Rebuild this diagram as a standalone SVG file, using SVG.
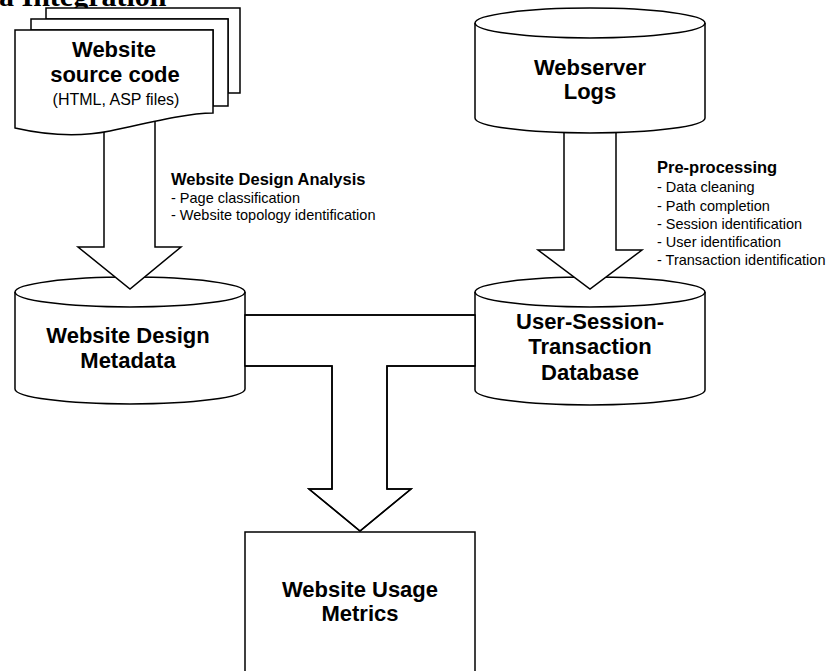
<svg xmlns="http://www.w3.org/2000/svg" width="830" height="671" viewBox="0 0 830 671">
<style>
.s{fill:#fff;stroke:#000;stroke-width:1.5;stroke-linejoin:miter}
.n{fill:none;stroke:#000;stroke-width:1.5}
.t{font-family:"Liberation Sans",Arial,sans-serif;font-weight:bold;font-size:22px;text-anchor:middle;fill:#000}
.r{font-family:"Liberation Sans",Arial,sans-serif;font-size:14.5px;fill:#000}
.b{font-family:"Liberation Sans",Arial,sans-serif;font-size:16.5px;font-weight:bold;fill:#000}
</style>
<rect width="830" height="671" fill="#fff"/>
<text x="-1" y="6" font-family="'Liberation Serif',serif" font-weight="bold" font-size="30">a Integration</text>

<g id="usage-metrics">
<rect class="s" x="245" y="532" width="230" height="160"/>
<text class="t" x="360" y="597">Website Usage</text>
<text class="t" x="360" y="621">Metrics</text>
</g>

<g id="design-metadata">
<path class="s" d="M15,292 A115,15 0 0 1 245,292 L245,389 A115,15 0 0 1 15,389 Z"/>
<path class="n" d="M15,292 A115,15 0 0 0 245,292"/>
<text class="t" x="128" y="343">Website Design</text>
<text class="t" x="128" y="368">Metadata</text>
</g>

<g id="ust-database">
<path class="s" d="M475,292 A115,15 0 0 1 705,292 L705,390 A115,15 0 0 1 475,390 Z"/>
<path class="n" d="M475,292 A115,15 0 0 0 705,292"/>
<text class="t" x="590" y="329">User-Session-</text>
<text class="t" x="590" y="354">Transaction</text>
<text class="t" x="590" y="380">Database</text>
</g>

<g id="connectors">
<path class="s" d="M104,110 L155,110 L155,247 L181,247 L130,289 L78,247 L104,247 Z"/>
<path class="s" d="M564,115 L616,115 L616,250 L642,250 L590,289 L538,250 L564,250 Z"/>
<path class="s" d="M245,315 H475 V366 H387 V489 H411 L360,531 L309,489 H332 V366 H245 Z" stroke="none"/>
<path class="n" d="M245,315 H475 M475,366 H387 V489 H411 L360,531 L309,489 H332 V366 H245"/>
</g>

<g id="webserver-logs">
<path class="s" d="M475,23 A115,15 0 0 1 705,23 L705,118 A115,15 0 0 1 475,118 Z"/>
<path class="n" d="M475,23 A115,15 0 0 0 705,23"/>
<text class="t" x="590" y="75">Webserver</text>
<text class="t" x="590" y="99">Logs</text>
</g>

<g id="source-code">
<path class="s" d="M46,8 H240 V93 H228 V19 H46 Z"/>
<path class="s" d="M31,19 H228 V106 H213 V30 H31 Z"/>
<path class="s" d="M15,30 H213 V113 C190,113 160,120 110,131 C80,137 50,136 15,128 Z"/>
<text class="t" x="114" y="57">Website</text>
<text class="t" x="115" y="82">source code</text>
<text x="116" y="105" font-family="'Liberation Sans',Arial,sans-serif" font-size="16" text-anchor="middle">(HTML, ASP files)</text>
</g>

<g id="label-design-analysis">
<text class="b" x="171" y="185">Website Design Analysis</text>
<text class="r" x="171" y="203">- Page classification</text>
<text class="r" x="171" y="220">- Website topology identification</text>
</g>

<g id="label-preprocessing">
<text class="b" x="657" y="173">Pre-processing</text>
<text class="r" x="657" y="192">- Data cleaning</text>
<text class="r" x="657" y="211">- Path completion</text>
<text class="r" x="657" y="229">- Session identification</text>
<text class="r" x="657" y="247">- User identification</text>
<text class="r" x="657" y="265">- Transaction identification</text>
</g>
</svg>
